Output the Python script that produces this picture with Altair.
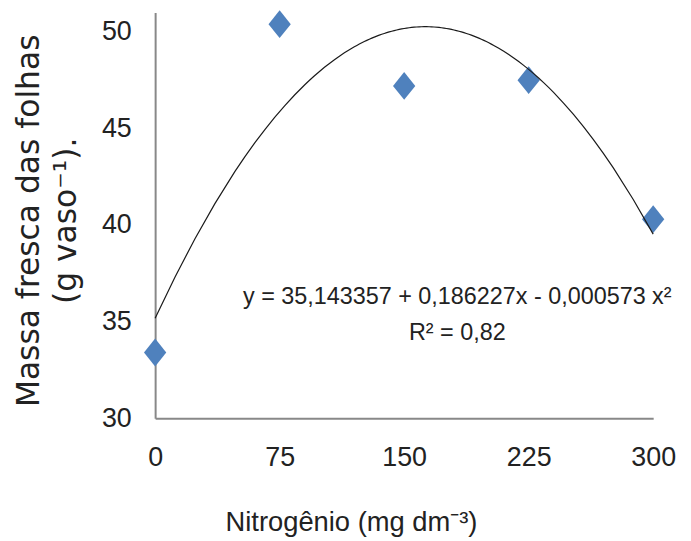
import altair as alt
import pandas as pd

# Data
nitrogen = [0, 75, 150, 225, 300]
massa = [33.4, 50.4, 47.2, 47.5, 40.3]

x_ticks = [0, 75, 150, 225, 300]
y_ticks = [30, 35, 40, 45, 50]

eq_lines = ["y = 35,143357 + 0,186227x  - 0,000573 x²", "R² = 0,82"]
eq_pos_x = [182.0]
eq_pos_y = [35.9]

df = pd.DataFrame({"x": nitrogen, "y": massa})
ann = pd.DataFrame({"x": eq_pos_x, "y": eq_pos_y})

SANS = "Liberation Sans, Arial, sans-serif"

xs = alt.Scale(domain=[0, 300], nice=False, zero=False)
ys = alt.Scale(domain=[30, 51], nice=False, zero=False)

x_axis = alt.Axis(
    values=x_ticks, title="Nitrogênio (mg dm⁻³)", grid=False, ticks=False, labelFlush=False,
    labelFont=SANS, labelFontSize=27, labelColor="#222", labelPadding=27,
    titleFont=SANS, titleFontSize=27.5, titleFontWeight="normal", titleColor="#222",
    titleX=197, titleY=113, titleBaseline="alphabetic", titleAnchor="middle", titleAlign="center",
    domainColor="#888888", domainWidth=2,
)
y_axis = alt.Axis(
    values=y_ticks, title=["Massa fresca das folhas", "(g vaso⁻¹)."], grid=False, ticks=False,
    labelFlush=False,
    labelFont=SANS, labelFontSize=27, labelColor="#222", labelPadding=24,
    titleFont="DejaVu Sans", titleFontSize=31.5, titleFontWeight="normal", titleColor="#222",
    titleX=-117, titleY=209, titleBaseline="alphabetic", titleAlign="center", titleAngle=270,
    titleLineHeight=37,
    domainColor="#888888", domainWidth=2,
)

points = alt.Chart(df).mark_point(
    shape="M0,-1L0.8,0L0,1L-0.8,0Z", size=784, filled=True, color="#4F81BD", opacity=1
).encode(
    x=alt.X("x:Q", scale=xs, axis=x_axis),
    y=alt.Y("y:Q", scale=ys, axis=y_axis),
)

curve = alt.Chart(df).transform_regression(
    "x", "y", method="poly", order=2, extent=[0, 300]
).mark_line(color="#1a1a1a", strokeWidth=1.2).encode(
    x=alt.X("x:Q", scale=xs),
    y=alt.Y("y:Q", scale=ys),
)

eq = alt.Chart(ann).mark_text(
    text=eq_lines, font=SANS, fontSize=23.5, color="#222", align="center",
    baseline="alphabetic", lineHeight=36,
).encode(
    x=alt.X("x:Q", scale=xs),
    y=alt.Y("y:Q", scale=ys),
)

chart = alt.layer(points, curve, eq).properties(
    width=501, height=408,
    autosize=alt.AutoSizeParams(type="none"),
    padding={"left": 148, "top": 3, "right": 30, "bottom": 118},
).configure(background="white").configure_view(stroke=None)

chart.save("out.html", embed_options={"renderer": "svg", "actions": False})
